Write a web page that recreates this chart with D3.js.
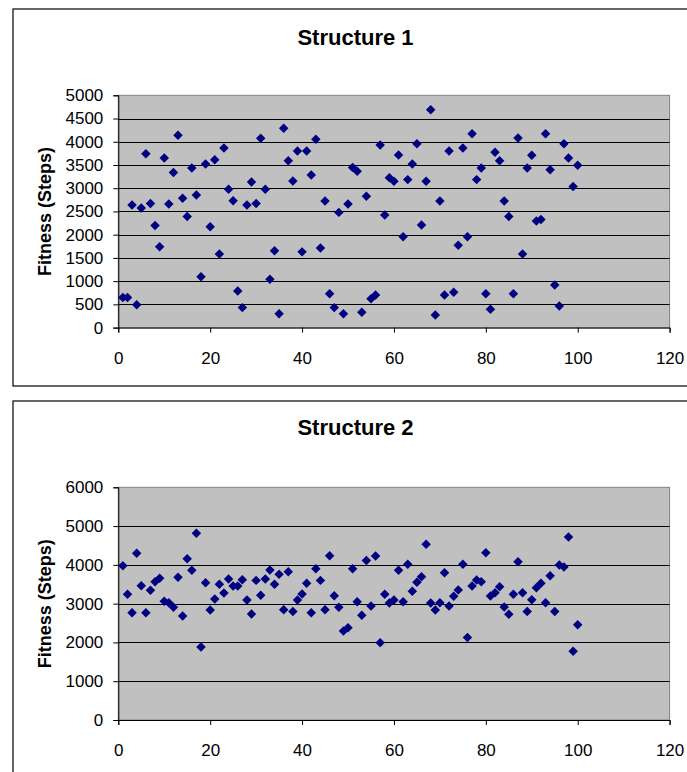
<!DOCTYPE html>
<html>
<head>
<meta charset="utf-8">
<script src="https://cdn.jsdelivr.net/npm/d3@7/dist/d3.min.js"></script>
<style>
  html, body { margin: 0; padding: 0; background: #ffffff; }
  svg { display: block; }
  text { font-family: "Liberation Sans", Arial, sans-serif; fill: #000; }
</style>
</head>
<body>
<svg id="chart" width="687" height="772"></svg>
<script>
// ---- data ----
const runs = [1,2,3,4,5,6,7,8,9,10,11,12,13,14,15,16,17,18,19,20,
  21,22,23,24,25,26,27,28,29,30,31,32,33,34,35,36,37,38,39,40,
  41,42,43,44,45,46,47,48,49,50,51,52,53,54,55,56,57,58,59,60,
  61,62,63,64,65,66,67,68,69,70,71,72,73,74,75,76,77,78,79,80,
  81,82,83,84,85,86,87,88,89,90,91,92,93,94,95,96,97,98,99,100];

const structure1 = [650,650,2640,490,2575,3740,2670,2200,1740,3650,
  2660,3340,4140,2785,2390,3435,2855,1095,3520,2170,
  3615,1585,3865,2980,2730,790,430,2640,3135,2670,
  4075,2980,1040,1655,300,4290,3590,3155,3800,1630,
  3800,3285,4055,1715,2725,730,430,2480,300,2660,
  3445,3365,330,2825,620,700,3930,2425,3225,3150,
  3715,1955,3185,3520,3955,2210,3150,4690,270,2725,
  700,3800,760,1770,3865,1955,4170,3185,3435,730,
  395,3775,3590,2725,2390,730,4080,1585,3435,3710,
  2295,2325,4170,3400,915,465,3955,3650,3035,3495];

const structure2 = [3980,3240,2765,4300,3460,2765,3345,3565,3655,3060,
  3025,2905,3680,2680,4160,3860,4815,1880,3540,2835,
  3120,3500,3275,3635,3455,3455,3615,3095,2735,3600,
  3215,3635,3865,3500,3755,2845,3825,2800,3095,3250,
  3525,2765,3900,3600,2845,4235,3205,2905,2295,2380,
  3900,3050,2700,4115,2940,4230,1995,3240,3015,3095,
  3860,3050,4015,3320,3550,3695,4530,3015,2835,3025,
  3795,2940,3190,3350,4015,2130,3455,3610,3565,4315,
  3200,3280,3435,2915,2725,3240,4080,3280,2800,3100,
  3410,3525,3025,3720,2800,3995,3945,4720,1770,2455];

const xTicks = [0,20,40,60,80,100,120];
const yTicks1 = [0,500,1000,1500,2000,2500,3000,3500,4000,4500,5000];
const yTicks2 = [0,1000,2000,3000,4000,5000,6000];
const titles = ["Structure 1", "Structure 2"];
const yLabel = "Fitness (Steps)";

// ---- drawing ----
const svg = d3.select("#chart");

function drawChart(opts) {
  const g = svg.append("g");
  // outer frame
  g.append("rect")
    .attr("x", opts.box.x).attr("y", opts.box.y)
    .attr("width", opts.box.w).attr("height", opts.box.h)
    .attr("fill", "#fff").attr("stroke", "#000").attr("stroke-width", 1.2);

  const x = d3.scaleLinear().domain([0, 120]).range([opts.left, opts.right]);
  const y = d3.scaleLinear().domain([0, opts.yMax]).range([opts.bottom, opts.top]);

  // plot area
  g.append("rect")
    .attr("x", x(0)).attr("y", y(opts.yMax))
    .attr("width", x(120) - x(0)).attr("height", y(0) - y(opts.yMax))
    .attr("fill", "#c0c0c0").attr("stroke", "#808080").attr("stroke-width", 1);

  // gridlines
  g.append("g").selectAll("line")
    .data(opts.yTicks.filter(d => d > 0 && d < opts.yMax))
    .join("line")
    .attr("x1", x(0)).attr("x2", x(120))
    .attr("y1", d => Math.round(y(d)) + 0.5).attr("y2", d => Math.round(y(d)) + 0.5)
    .attr("stroke", "#000").attr("stroke-width", 1);

  // y axis
  const yAxis = g.append("g")
    .attr("transform", `translate(${x(0)},0)`)
    .call(d3.axisLeft(y).tickValues(opts.yTicks).tickSize(5).tickPadding(10).tickFormat(d3.format("d")));
  yAxis.select(".domain").attr("stroke", "#000");
  yAxis.selectAll(".tick line").attr("stroke", "#000");
  yAxis.selectAll("text").style("font-size", "17px").attr("fill", "#000");

  // x axis
  const xAxis = g.append("g")
    .attr("transform", `translate(0,${y(0)})`)
    .call(d3.axisBottom(x).tickValues(xTicks).tickSize(5).tickPadding(19).tickFormat(d3.format("d")));
  xAxis.select(".domain").attr("stroke", "#000");
  xAxis.selectAll(".tick line").attr("stroke", "#000");
  xAxis.selectAll("text").style("font-size", "17px").attr("fill", "#000");

  // markers
  const diamond = d3.symbol().type(d3.symbolSquare).size(45);
  g.append("g").selectAll("path")
    .data(opts.values.map((v, i) => [runs[i], v]))
    .join("path")
    .attr("d", diamond)
    .attr("transform", d => `translate(${x(d[0])},${y(d[1])}) rotate(45)`)
    .attr("fill", "#000080");

  // title
  g.append("text")
    .attr("x", opts.titleX).attr("y", opts.titleY)
    .attr("text-anchor", "middle")
    .style("font-size", "22px").style("font-weight", "bold")
    .text(opts.title);

  // y label
  g.append("text")
    .attr("transform", `translate(${opts.yLabelX},${(y(0) + y(opts.yMax)) / 2}) rotate(-90)`)
    .attr("text-anchor", "middle")
    .style("font-size", "18px").style("font-weight", "bold")
    .text(yLabel);
}

drawChart({
  box: {x: 13, y: 9, w: 700, h: 377},
  left: 118.3, right: 669.6, top: 95.3, bottom: 327.6,
  yMax: 5000, yTicks: yTicks1, values: structure1,
  title: titles[0], titleX: 355.5, titleY: 44.5, yLabelX: 51
});

drawChart({
  box: {x: 13, y: 401, w: 700, h: 400},
  left: 118.3, right: 669.6, top: 487.3, bottom: 720,
  yMax: 6000, yTicks: yTicks2, values: structure2,
  title: titles[1], titleX: 355.5, titleY: 435, yLabelX: 51
});
</script>
</body>
</html>
